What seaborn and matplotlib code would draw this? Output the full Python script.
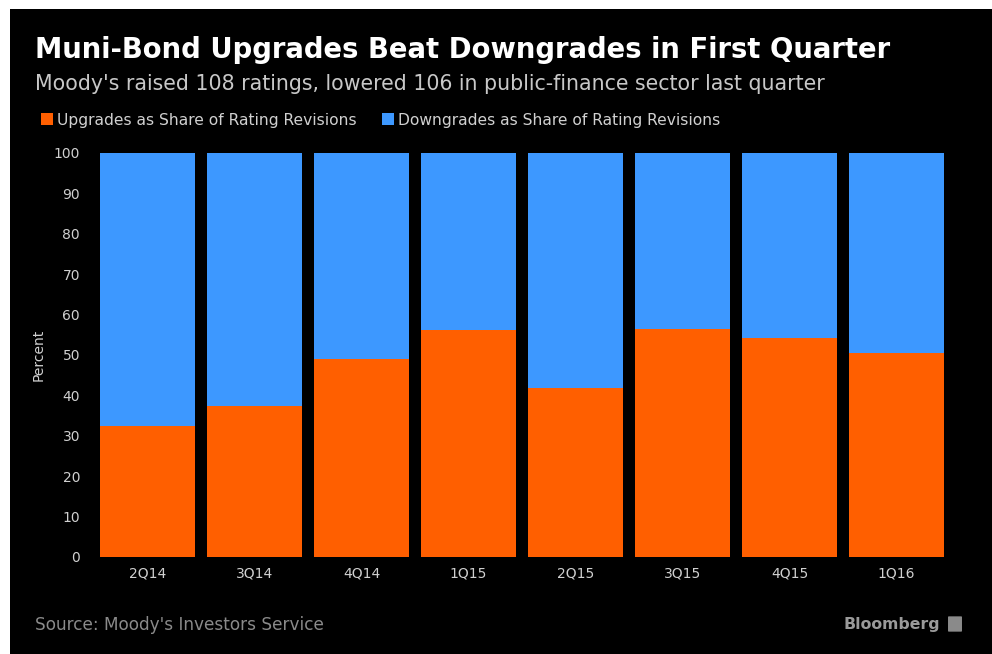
import matplotlib
matplotlib.use("Agg")
import matplotlib.pyplot as plt
from matplotlib.patches import Rectangle, Patch, FancyBboxPatch
import seaborn as sns
import pandas as pd

quarters = ["2Q14", "3Q14", "4Q14", "1Q15", "2Q15", "3Q15", "4Q15", "1Q16"]
upgrades = [32.4, 37.4, 49.0, 56.2, 41.8, 56.4, 54.2, 50.5]
downgrades = [67.6, 62.6, 51.0, 43.8, 58.2, 43.6, 45.8, 49.5]
y_ticks = [0, 10, 20, 30, 40, 50, 60, 70, 80, 90, 100]

ORANGE = "#FF5F00"
BLUE = "#3D98FF"
BG = "#000000"

sns.set_theme(style="dark")
plt.rcParams["font.family"] = ["DejaVu Sans"]

df = pd.DataFrame({"quarter": quarters, "up": upgrades, "down": downgrades})
df["total"] = df["up"] + df["down"]

fig = plt.figure(figsize=(9.92, 6.54), dpi=100)
fig.patch.set_facecolor("white")
fig.patches.append(Rectangle((10 / 992, 0), 1 - 10 / 992, 1 - 9 / 654,
                             transform=fig.transFigure, facecolor=BG,
                             edgecolor="none", zorder=-10))

ax = fig.add_axes([94 / 992, 1 - 557 / 654, (950 - 94) / 992, (557 - 153) / 654])
ax.set_facecolor(BG)

# stacked bars: full-height downgrades bar underneath, upgrades share on top
sns.barplot(data=df, x="quarter", y="total", color=BLUE, width=0.89,
            saturation=1, ax=ax, edgecolor="none")
sns.barplot(data=df, x="quarter", y="up", color=ORANGE, width=0.89,
            saturation=1, ax=ax, edgecolor="none")

ax.set_xlim(-0.5, len(quarters) - 0.5)
ax.set_ylim(0, 100)
ax.set_yticks(y_ticks)
ax.set_yticklabels([str(t) for t in y_ticks])
ax.tick_params(axis="both", colors="#d0d0d0", labelsize=10, length=0)
ax.tick_params(axis="y", pad=10)
ax.tick_params(axis="x", pad=7)
ax.set_xlabel("")
ax.set_ylabel("Percent", color="#d0d0d0", fontsize=10, labelpad=6)
ax.grid(False)
for s in ax.spines.values():
    s.set_visible(False)

fig.text(35 / 992, 1 - 50 / 654, "Muni-Bond Upgrades Beat Downgrades in First Quarter",
         color="white", fontsize=19.8, fontweight="bold", va="center", ha="left")
fig.text(35 / 992, 1 - 84 / 654,
         "Moody's raised 108 ratings, lowered 106 in public-finance sector last quarter",
         color="#c8c8c8", fontsize=14.8, va="center", ha="left")

handles = [Patch(facecolor=ORANGE, edgecolor="none"), Patch(facecolor=BLUE, edgecolor="none")]
labels = ["Upgrades as Share of Rating Revisions", "Downgrades as Share of Rating Revisions"]
leg = fig.legend(handles, labels, loc="center left", bbox_to_anchor=(27 / 992, 1 - 120 / 654),
                 ncol=2, frameon=False, handlelength=0.8, handleheight=0.8,
                 handletextpad=0.25, columnspacing=1.6, fontsize=11.2)
for t in leg.get_texts():
    t.set_color("#d0d0d0")

fig.text(35 / 992, 1 - 625 / 654, "Source: Moody's Investors Service",
         color="#8a8a8a", fontsize=12.2, va="center", ha="left")
fig.text(940 / 992, 1 - 624 / 654, "Bloomberg", color="#9a9a9a", fontsize=11.3,
         fontweight="bold", va="center", ha="right")
fig.patches.append(FancyBboxPatch((949 / 992, 1 - 631 / 654), 12 / 992, 14 / 654,
                                  boxstyle="round,pad=0.001", transform=fig.transFigure,
                                  facecolor="#8a8a8a", edgecolor="none"))

fig.savefig("out.png", dpi=100, facecolor=fig.get_facecolor())
